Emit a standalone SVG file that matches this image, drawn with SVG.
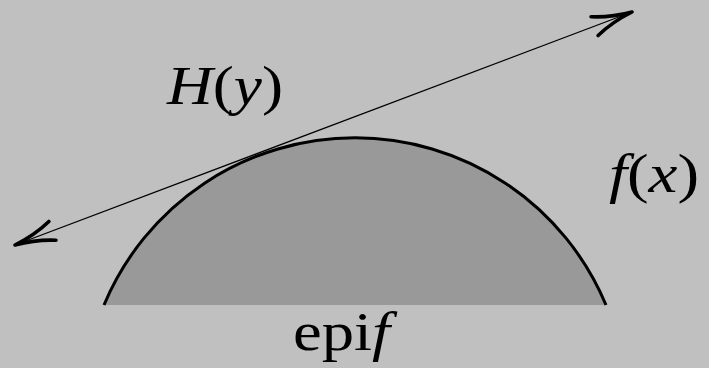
<svg xmlns="http://www.w3.org/2000/svg" width="709" height="368" viewBox="0 0 709 368">
<style>
.lbl{font-family:"Liberation Serif",serif;font-size:54px;fill:#000}
.it{font-style:italic}
</style>
<defs>
<marker id="ah" markerUnits="userSpaceOnUse" viewBox="-46 -14 50 28" refX="0" refY="0" markerWidth="50" markerHeight="28" orient="auto-start-reverse" overflow="visible">
<path d="M -40 -10 C -26 -4 -10 -1 0 0 C -10 1 -26 4 -40 10" fill="none" stroke="#000" stroke-width="3.6" stroke-linecap="round" stroke-linejoin="round"/>
</marker>
</defs>
<rect width="709" height="368" fill="#c0c0c0"/>
<g id="epi">
<path d="M 104 305 A 272 272 0 0 1 606 305 Z" fill="#999999"/>
<path d="M 104 305 A 272 272 0 0 1 606 305" fill="none" stroke="#000" stroke-width="3"/>
</g>
<g id="connectors">
<line x1="15" y1="245" x2="632" y2="12" stroke="#000" stroke-width="1.2" marker-start="url(#ah)" marker-end="url(#ah)"/>
</g>
<g id="labels">
<text class="lbl" x="167" y="104" textLength="116" lengthAdjust="spacingAndGlyphs"><tspan class="it">H</tspan>(<tspan class="it">y</tspan>)</text>
<text class="lbl" x="609" y="192" textLength="90" lengthAdjust="spacingAndGlyphs"><tspan class="it">f</tspan>(<tspan class="it">x</tspan>)</text>
<text class="lbl" x="293" y="350" textLength="97" lengthAdjust="spacingAndGlyphs">epi<tspan class="it">f</tspan></text>
</g>
</svg>
